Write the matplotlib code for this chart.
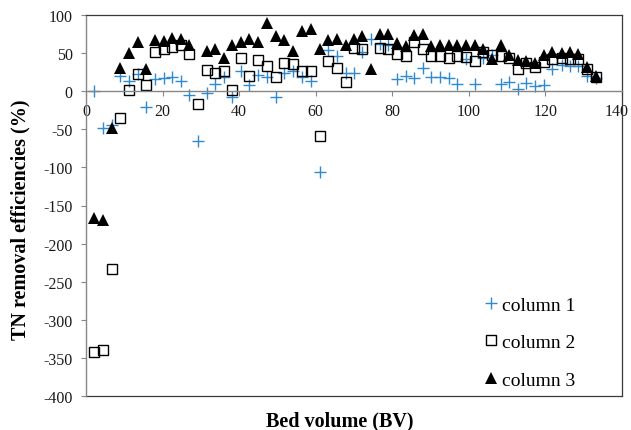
import numpy as np
import matplotlib
matplotlib.use("Agg")
import matplotlib.pyplot as plt
from matplotlib.transforms import ScaledTranslation


# bed volumes (BV) where samples were taken
bed_volume = [2.2, 4.4, 6.7, 8.9, 11.3, 13.5, 15.8, 18.0, 20.4, 22.5,
              24.7, 27.0, 29.2, 31.5, 33.7, 36.1, 38.2, 40.5, 42.6, 45.0,
              47.2, 49.5, 51.8, 54.1, 56.5, 58.7, 61.0, 63.3, 65.6, 67.9,
              70.1, 72.2, 74.5, 76.8, 79.0, 81.3, 83.6, 85.7, 87.9, 90.1,
              92.5, 94.8, 97.0, 99.3, 101.6, 103.8, 106.0, 108.3, 110.6, 112.8,
              115.0, 117.3, 119.6, 121.8, 124.2, 126.4, 128.6, 130.8, 133.3]

# TN removal efficiencies (%)
column1 = [0, -48, -45, 20, 14, 23, -21, 16, 17, 18,
           13.5, -5, -66, -3, 10, 18, -7, 26, 8, 21,
           18, -8, 24, 27, 18, 14, -106, 54, 46, 24.5,
           24.5, 51, 68, 62, 60, 16.5, 20, 17, 30, 18,
           18, 17, 9, 42, 9, 43, 48, 9, 12, 2.5,
           11, 6.5, 8, 29, 34, 32.5, 32.5, 20.5, 17]

column2 = [-342, -339, -233, -35, 2, 22, 8, 52, 55, 58,
           61, 48.5, -17, 28, 23.5, 26.5, 1.5, 43, 20, 41,
           33, 18, 37.5, 36, 27, 27, -58.5, 40, 31, 11.5,
           57, 55, np.nan, 57, 55, 49, 46, 64, 55, 46.5,
           46, 43, 46.5, 45, 40, 52, 48, 46, 43.5, 29.5,
           36.5, 32, 38, 42, 43, 42, 42, 29, 19]

column3 = [-166, -169, -48, 30, 49.5, 65, 29, 67, 66, 70,
           69, 60, np.nan, 53, 56, 44, 60, 64, 69, 64,
           89, 73, 67, 53, 79, 81, 56, 67, 69, 61,
           69, 72, 29, 75, 75.5, 63, 59, 74, 75, 59.5,
           61, 60, 60, 60, 61, 55.5, 42.5, 60, 48, 40.5,
           40, 37, 47, 51.5, 50, 51, 49, 32, 20]

y_ticks = list(range(-400, 101, 50))
x_ticks = list(range(0, 141, 20))


plt.rcParams["font.family"] = "Liberation Serif"
plt.rcParams["axes.unicode_minus"] = False

W, H = 631, 431
fig = plt.figure(figsize=(W / 100, H / 100), dpi=100)
ax = fig.add_axes([86 / W, 34 / H, 536 / W, 381 / H])

ax.plot(bed_volume, column1, linestyle="none", marker="+", ms=8.5, mew=1.0,
        color="#2f8ad0", label="column 1")
ax.plot(bed_volume, column2, linestyle="none", marker="s", ms=7, mew=1.0,
        mfc="none", mec="black", label="column 2")
ax.plot(bed_volume, column3, linestyle="none", marker="^", ms=9, mew=0,
        color="black", label="column 3")

ax.set_xlim(0, 140)
ax.set_ylim(-400, 100)
ax.set_xticks(x_ticks)
ax.set_yticks(y_ticks)

# x axis runs through zero, plot area keeps its frame
ax.spines["bottom"].set_position(("data", 0))
ax.spines["bottom"].set_color("#868686")
ax.spines["left"].set_color("#868686")
ax.spines["bottom"].set_linewidth(1.0)
ax.spines["left"].set_linewidth(1.0)
for s in ["top", "right"]:
    ax.spines[s].set_color("#3a3a3a")
    ax.spines[s].set_linewidth(0.9)
ax.axhline(-400, color="#3a3a3a", lw=0.9, clip_on=False)

ax.tick_params(axis="x", direction="out", length=3.5, width=0.8,
               color="#868686", pad=5, labelsize=11.5, labelcolor="#1a1a1a")
ax.tick_params(axis="y", direction="out", length=3.5, width=0.8,
               color="#868686", pad=6, labelsize=11.5, labelcolor="#1a1a1a")

# last x label sits against the right edge, pull it in a little
last = ax.get_xticklabels()[-1]
last.set_transform(last.get_transform() + ScaledTranslation(-5 / 100, 0, fig.dpi_scale_trans))

fig.text(20 / W, 1 - 220 / H, "TN removal efficiencies (%)", rotation=90,
         ha="center", va="center", fontsize=14.5, fontweight="bold")
fig.text(340 / W, 1 - 421 / H, "Bed volume (BV)",
         ha="center", va="center", fontsize=14.5, fontweight="bold")

ax.legend(loc="upper left", bbox_to_anchor=(485 / W, 1 - 297 / H),
          bbox_transform=fig.transFigure, frameon=False, fontsize=14,
          borderpad=0, borderaxespad=0, handlelength=0.6, handletextpad=0.3,
          labelspacing=1.02, numpoints=1)

fig.savefig("out.png", dpi=100)
